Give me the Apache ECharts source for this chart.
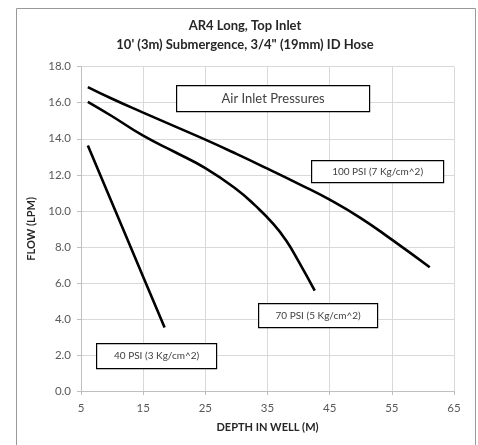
<!DOCTYPE html>
<html><head><meta charset="utf-8">
<script src="https://cdn.jsdelivr.net/npm/echarts@6/dist/echarts.min.js"></script>
<style>html,body{margin:0;padding:0;background:#fff}#c{width:478px;height:445px}</style>
</head><body><div id="c"></div>
<script>
var titleLines = ["AR4 Long, Top Inlet", "10' (3m) Submergence, 3/4\" (19mm) ID Hose"];
var xTicks = [5, 15, 25, 35, 45, 55, 65];
var depth100 = [6.1, 10, 15, 20, 25, 30, 35, 40, 45, 50, 55, 61.1];
var flow100  = [16.87, 16.22, 15.45, 14.7, 13.95, 13.16, 12.34, 11.5, 10.62, 9.6, 8.4, 6.87];
var depth70 = [6.1, 10, 15, 20, 25, 30, 33, 36, 38, 40, 42.6];
var flow70  = [16.05, 15.25, 14.17, 13.28, 12.37, 11.2, 10.3, 9.25, 8.35, 7.2, 5.57];
var depth40 = [6.1, 12, 18.45];
var flow40  = [13.63, 8.8, 3.52];
var labels = ["Air Inlet Pressures", "100 PSI (7 Kg/cm^2)", "70 PSI (5 Kg/cm^2)", "40 PSI (3 Kg/cm^2)"];

function pairs(xs, ys){ return xs.map(function(x,i){return [x, ys[i]];}); }
var FONT = 'Lato, "Open Sans", sans-serif';
function box(x, y, w, h, text, size){
  return {
    type: 'group', left: x, top: y, z: 100,
    children: [
      {type:'rect', z:100, shape:{x:0,y:0,width:w,height:h}, style:{fill:'#fff', stroke:'#000', lineWidth:1.2}},
      {type:'text', z:101, x:w/2, y:h/2, style:{text:text, fill:'#404040', font: size+'px '+FONT, align:'center', verticalAlign:'middle'}}
    ]
  };
}
var chart = echarts.init(document.getElementById('c'));
var lineStyle = {color:'#000', width:2.6};
chart.setOption({
  animation:false,
  title:{text: titleLines.join('\n'), left: 240, top: 11, textAlign:'center',
    textStyle:{fontFamily:FONT, fontSize:13, fontWeight:'bold', color:'#262626', lineHeight:19}},
  grid:{left:81, right:24, top:66.7, bottom:54, containLabel:false},
  xAxis:{type:'value', min:5, max:65, interval:10,
    name:'DEPTH IN WELL (M)', nameLocation:'middle', nameGap:31,
    nameTextStyle:{fontFamily:FONT, fontSize:11, fontWeight:'bold', color:'#262626'},
    axisLine:{show:true, onZero:false, lineStyle:{color:'#bfbfbf'}},
    axisTick:{show:true, length:4, lineStyle:{color:'#bfbfbf'}},
    axisLabel:{fontFamily:FONT, fontSize:11.5, color:'#595959', margin:11},
    splitLine:{show:true, lineStyle:{color:'#d9d9d9'}}},
  yAxis:{type:'value', min:0, max:18, interval:2,
    name:'FLOW (LPM)', nameLocation:'middle', nameGap:31, nameRotate:90,
    nameTextStyle:{fontFamily:FONT, fontSize:11, fontWeight:'bold', color:'#262626'},
    axisLine:{show:true, lineStyle:{color:'#bfbfbf'}},
    axisTick:{show:true, length:4, lineStyle:{color:'#bfbfbf'}},
    axisLabel:{fontFamily:FONT, fontSize:11.5, color:'#595959', margin:10, formatter:function(v){return v.toFixed(1);}},
    splitLine:{show:true, lineStyle:{color:'#d9d9d9'}}},
  series:[
    {type:'line', data:pairs(depth100, flow100), smooth:0.5, symbol:'none', lineStyle:lineStyle},
    {type:'line', data:pairs(depth70, flow70), smooth:0.5, symbol:'none', lineStyle:lineStyle},
    {type:'line', data:pairs(depth40, flow40), smooth:0.2, symbol:'none', lineStyle:lineStyle}
  ],
  graphic:[
    {type:'rect', left:14, top:6, shape:{x:0,y:0,width:459,height:460}, style:{fill:'none', stroke:'#999', lineWidth:1}, silent:true},
    box(176, 85, 193, 26, labels[0], 13),
    box(311, 160, 132, 22, labels[1], 10),
    box(258, 303, 119, 24, labels[2], 10),
    box(96, 343, 120, 25, labels[3], 10)
  ]
});
</script></body></html>
